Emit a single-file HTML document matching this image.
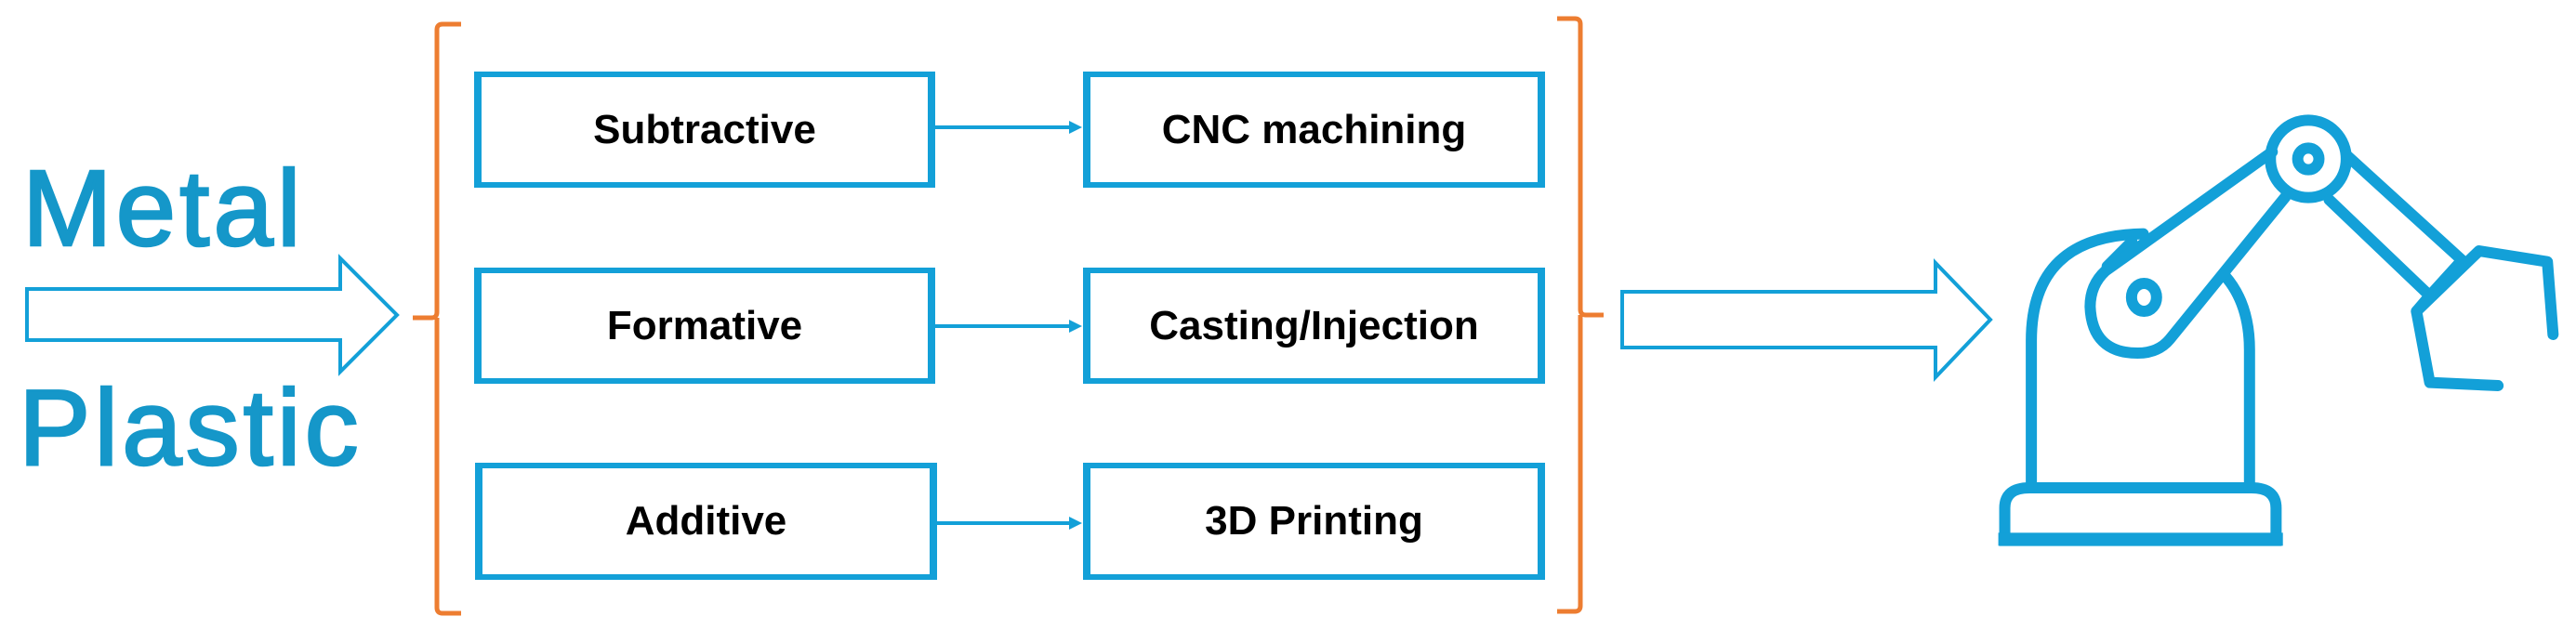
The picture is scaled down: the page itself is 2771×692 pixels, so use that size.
<!DOCTYPE html>
<html><head><meta charset="utf-8"><style>
body{margin:0;width:2771px;height:692px;background:#fff;position:relative;overflow:hidden;font-family:"Liberation Sans",sans-serif}
.box{position:absolute;box-sizing:border-box;border:solid #13a0d8;border-width:6px 8px;display:flex;align-items:center;justify-content:center;font-weight:bold;font-size:44px;color:#000}
.big{position:absolute;color:#1597c9;font-size:116px;letter-spacing:4px;line-height:1;-webkit-text-stroke:2.5px #1597c9}
svg{position:absolute;left:0;top:0}
</style></head><body>
<div class="big" style="left:24px;top:166px">Metal</div>
<div class="big" style="left:20px;top:402px">Plastic</div>
<div class="box" style="left:510px;top:77px;width:496px;height:125px">Subtractive</div>
<div class="box" style="left:1165px;top:77px;width:497px;height:125px">CNC machining</div>
<div class="box" style="left:510px;top:288px;width:496px;height:125px">Formative</div>
<div class="box" style="left:1165px;top:288px;width:497px;height:125px">Casting/Injection</div>
<div class="box" style="left:511px;top:498px;width:497px;height:126px">Additive</div>
<div class="box" style="left:1165px;top:498px;width:497px;height:126px">3D Printing</div>
<svg width="2771" height="692" viewBox="0 0 2771 692">
<g fill="none" stroke="#ed7d31" stroke-width="5">
<path d="M496,26 L476,26 Q470,26 470,32 L470,336 Q470,342 464,342 L444,342 M470,342 Q470,348 470,352 L470,654 Q470,660 476,660 L496,660"/>
<path d="M1675,20 L1694,20 Q1700,20 1700,26 L1700,333 Q1700,339 1706,339 L1725,339 M1700,339 L1700,652 Q1700,658 1694,658 L1675,658"/>
</g>
<g fill="none" stroke="#13a0d8" stroke-width="4">
<path d="M29,311 L366,311 L366,278 L427,339 L366,400 L366,366 L29,366 Z"/>
<path d="M1745,314 L2082,314 L2082,283 L2141,344 L2082,406 L2082,374 L1745,374 Z"/>
<path d="M1006,137 L1158,137 M1006,351 L1158,351 M1008,563 L1158,563"/>
</g>
<g fill="#13a0d8">
<path d="M1164,137 L1150,130 L1150,144 Z"/><path d="M1164,351 L1150,344 L1150,358 Z"/><path d="M1164,563 L1150,556 L1150,570 Z"/>
</g>
</svg>
<svg style="left:2130px;top:100px" width="640" height="500" viewBox="0 0 1568 1500" preserveAspectRatio="none">
<g fill="none" stroke="#13a0d8" stroke-width="12" stroke-linejoin="round" stroke-linecap="round">
<path vector-effect="non-scaling-stroke" d="M65,1445 L65,1340 Q65,1275 130,1275 L715,1275 Q780,1275 780,1340 L780,1445 Z" stroke-linecap="butt" stroke-linejoin="miter"/>
<path vector-effect="non-scaling-stroke" d="M135,1275 L135,800 Q135,460 430,455"/>
<path vector-effect="non-scaling-stroke" d="M710,1275 L710,830 Q710,680 645,590"/>
<path vector-effect="non-scaling-stroke" d="M400,480 L335,560"/>
<path vector-effect="non-scaling-stroke" d="M770,190 L330,575 Q290,620 290,690 Q295,840 415,840 Q470,840 500,795 L805,335"/>
<ellipse vector-effect="non-scaling-stroke" cx="432" cy="660" rx="33" ry="45"/>
<ellipse vector-effect="non-scaling-stroke" cx="865" cy="213" rx="100" ry="125"/>
<ellipse vector-effect="non-scaling-stroke" cx="865" cy="213" rx="28" ry="35"/>
<path vector-effect="non-scaling-stroke" d="M965,200 L1270,540 L1185,655 L920,345"/>
<path vector-effect="non-scaling-stroke" d="M1185,655 L1150,705 L1315,510 L1495,545 L1510,780"/>
<path vector-effect="non-scaling-stroke" d="M1150,705 L1185,935 L1365,945"/>
</g>
<rect x="48" y="1420" width="750" height="42" fill="#13a0d8"/>
</svg>
</body></html>
